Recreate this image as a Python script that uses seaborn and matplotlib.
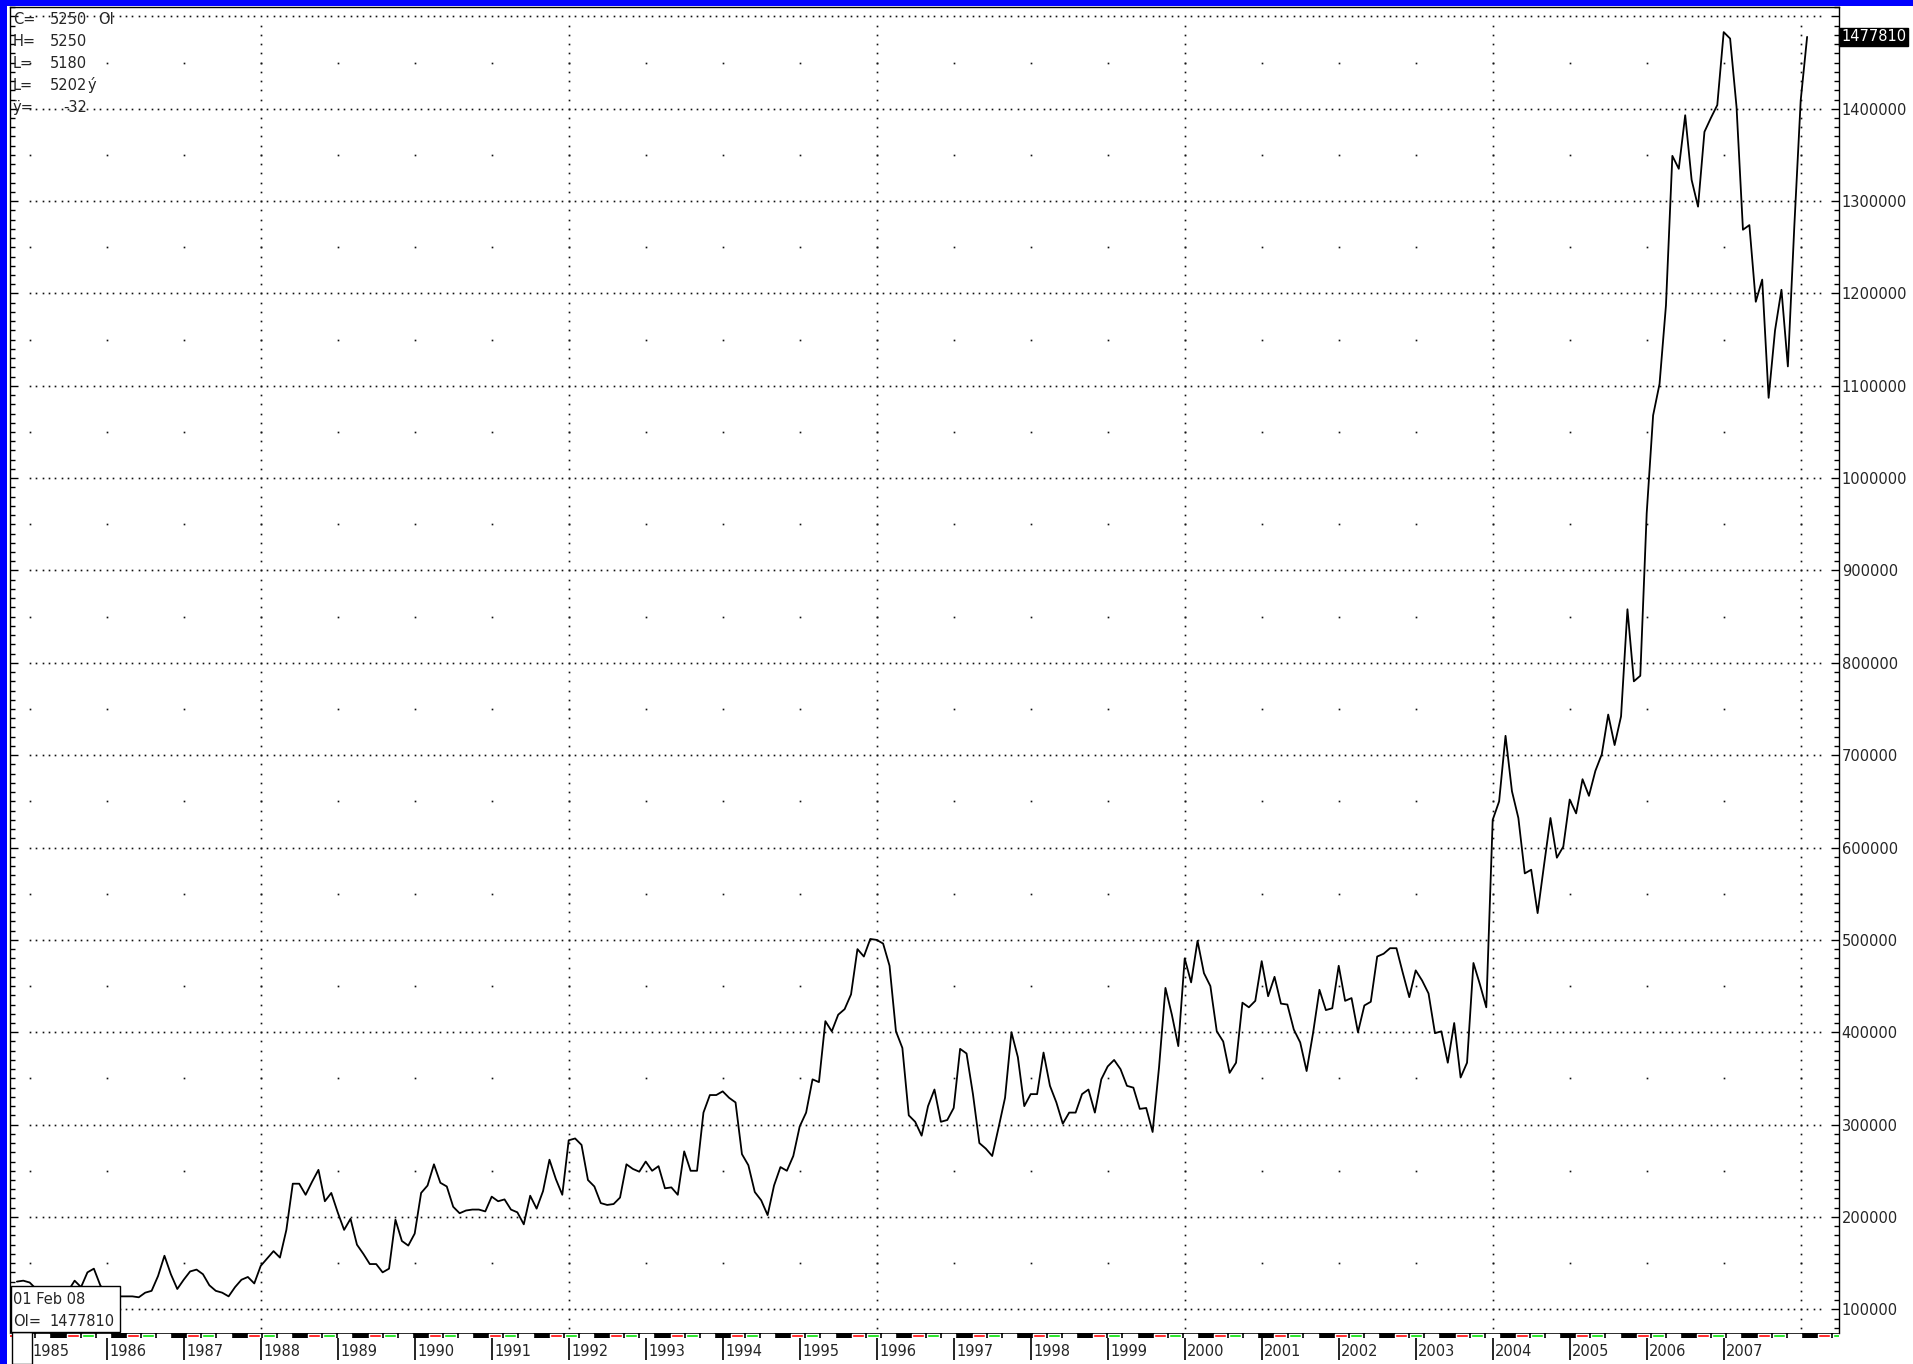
import matplotlib
matplotlib.use('Agg')
import matplotlib.pyplot as plt
from matplotlib.patches import Rectangle
from matplotlib.ticker import MultipleLocator
import numpy as np
import pandas as pd
import seaborn as sns

sns.set_style('white')
plt.rcParams['font.family'] = ['DejaVu Sans']

# monthly open interest, first value is Nov 1984, last is Feb 2008
start_month = '1984-11-01'
open_interest = [
    130000, 131000,
    # 1985
    129000, 122000, 118000, 115000, 113000, 116000, 120000, 131000, 124000, 140000, 144000, 126000,
    # 1986
    116000, 112000, 114000, 114000, 114000, 113000, 118000, 120000, 136000, 158000, 138000, 122000,
    # 1987
    132000, 141000, 143000, 138000, 126000, 120000, 118000, 114000, 124000, 132000, 135000, 128000,
    # 1988
    147000, 155000, 163000, 156000, 186000, 236000, 236000, 224000, 238000, 251000, 217000, 226000,
    # 1989
    205000, 186000, 198000, 170000, 160000, 149000, 149000, 140000, 144000, 197000, 174000, 169000,
    # 1990
    182000, 226000, 234000, 257000, 237000, 233000, 211000, 204000, 207000, 208000, 208000, 206000,
    # 1991
    222000, 217000, 219000, 208000, 205000, 192000, 223000, 209000, 228000, 262000, 241000, 224000,
    # 1992
    283000, 285000, 278000, 240000, 233000, 215000, 213000, 214000, 221000, 257000, 252000, 249000,
    # 1993
    260000, 250000, 255000, 231000, 232000, 224000, 271000, 250000, 250000, 313000, 332000, 332000,
    # 1994
    336000, 329000, 324000, 268000, 256000, 227000, 218000, 202000, 234000, 254000, 250000, 266000,
    # 1995
    298000, 313000, 349000, 346000, 412000, 401000, 419000, 425000, 441000, 490000, 482000, 501000,
    # 1996
    500000, 496000, 472000, 401000, 383000, 310000, 303000, 288000, 320000, 338000, 303000, 305000,
    # 1997
    318000, 382000, 377000, 333000, 280000, 274000, 266000, 297000, 329000, 400000, 373000, 320000,
    # 1998
    333000, 333000, 378000, 342000, 324000, 301000, 313000, 313000, 333000, 338000, 313000, 349000,
    # 1999
    363000, 370000, 360000, 342000, 340000, 317000, 318000, 292000, 362000, 448000, 419000, 385000,
    # 2000
    480000, 454000, 499000, 464000, 450000, 401000, 390000, 356000, 367000, 432000, 427000, 434000,
    # 2001
    477000, 439000, 460000, 431000, 430000, 403000, 389000, 358000, 399000, 446000, 424000, 426000,
    # 2002
    472000, 434000, 437000, 400000, 429000, 433000, 482000, 485000, 491000, 491000, 464000, 438000,
    # 2003
    467000, 456000, 442000, 399000, 401000, 367000, 410000, 351000, 367000, 475000, 452000, 427000,
    # 2004
    630000, 650000, 721000, 661000, 632000, 572000, 576000, 529000, 581000, 632000, 589000, 601000,
    # 2005
    652000, 637000, 674000, 656000, 683000, 701000, 744000, 711000, 742000, 858000, 780000, 786000,
    # 2006
    962000, 1068000, 1102000, 1187000, 1349000, 1335000, 1393000, 1323000, 1294000, 1375000, 1390000, 1404000,
    # 2007
    1483000, 1476000, 1402000, 1269000, 1274000, 1191000, 1215000, 1087000, 1160000, 1204000, 1121000, 1272000,
    # 2008
    1409000, 1477810,
]
year_labels = list(range(1985, 2008))
y_tick_values = list(range(100000, 1500001, 100000))
y_tick_labels = [str(v) for v in y_tick_values[:-1]] + ['']
header_names = ['C=', 'H=', 'L=', 'L=', 'ÿ=']
header_values = ['5250', '5250', '5180', '5202', '-32']
last_date_label = '01 Feb 08'

W, H = 1913, 1364


def fx(px):
    return px / W


def fy(py):
    return 1 - py / H


# pixel -> data mapping measured on the reference
def year_at(px):
    return 1986 + (px - 106.7) / 77.0


def value_at(py):
    return 100000 + (1309.3 - py) / 92.35 * 100000


dates = pd.date_range(start_month, periods=len(open_interest), freq='MS')
df = pd.DataFrame({'t': dates.year + (dates.month - 1) / 12.0, 'oi': open_interest})

fig = plt.figure(figsize=(W / 100, H / 100), dpi=100)
ax = fig.add_axes([fx(10), fy(1332.5), fx(1839) - fx(10), fy(7) - fy(1332.5)])
ax.set_xlim(year_at(10), year_at(1839))
ax.set_ylim(value_at(1332.5), value_at(7))

# dotted grid: one dot per month on the 100000 lines
grid_t = 1985 + np.arange(280) / 12.0
for v in y_tick_values:
    ax.plot(grid_t, np.full(len(grid_t), v), ls='none', marker='s', ms=1.2, mew=0, color='#111111')
# vertical dotted lines every 4 years, one dot per 10000
dot_vals = np.arange(80000, 1500000, 10000)
for yr in range(1988, 2009, 4):
    ax.plot(np.full(len(dot_vals), yr), dot_vals, ls='none', marker='s', ms=1.2, mew=0, color='#111111')
# sparse dots at every year, halfway between gridlines
mid_vals = np.arange(150000, 1500000, 100000)
for yr in range(1985, 2009):
    ax.plot(np.full(len(mid_vals), yr), mid_vals, ls='none', marker='s', ms=1.2, mew=0, color='#111111')

sns.lineplot(data=df, x='t', y='oi', ax=ax, color='black', linewidth=1.3, estimator=None, zorder=5)

ax.set_xlabel('')
ax.set_ylabel('')
ax.set_xticks([])
ax.set_yticks(y_tick_values)
ax.set_yticklabels(y_tick_labels)
ax.yaxis.set_minor_locator(MultipleLocator(10000))
ax.tick_params(axis='y', which='both', direction='in', left=True, right=True,
               labelleft=False, labelright=True, labelsize=10.5, pad=2, color='black')
ax.tick_params(axis='y', which='major', length=6, width=1)
ax.tick_params(axis='y', which='minor', length=3.5, width=1)
for side in ['left', 'right', 'top']:
    ax.spines[side].set_color('black')
    ax.spines[side].set_linewidth(1)
ax.spines['bottom'].set_visible(False)

# last value tag
ax.annotate(str(open_interest[-1]), xy=(1, open_interest[-1]), xycoords=('axes fraction', 'data'),
            xytext=(1.5, 0), textcoords='offset points', ha='left', va='center', color='white',
            fontsize=10.5, bbox=dict(boxstyle='square,pad=0.12', fc='black', ec='black'),
            annotation_clip=False)

# bottom date band
band = fig.add_axes([fx(10), 0, fx(1839) - fx(10), fy(1332.5)])
band.set_xlim(year_at(10), year_at(1839))
band.set_ylim(1364, 1332.5)
band.axis('off')
band.axhspan(1332.5, 1338.0, color='black', lw=0)
period = 0.7843
starts = 1985.48 + period * np.arange(-1, 31)
seg = 12 / 77.0
gap = 3 / 77.0
band.broken_barh([(s, seg) for s in starts], (1333.9, 3.0), facecolors='#ff0000')
band.broken_barh([(s + seg + gap, seg) for s in starts], (1333.9, 3.0), facecolors='#00e000')
band.broken_barh([(s + 2 * (seg + gap), seg * 1.1) for s in starts], (1333.9, 3.0), facecolors='white')
band.vlines(year_labels, 1338, 1360, color='black', lw=1.2)
for yr in year_labels:
    band.text(yr + 2.6 / 77.0, 1351.5, str(yr), ha='left', va='center', fontsize=10.5)

# small empty box in the corner
fig.add_artist(Rectangle((fx(11.7), fy(1363.5)), fx(31.7) - fx(11.7), (1363.5 - 1332) / H,
                         transform=fig.transFigure, fc='white', ec='black', lw=1, zorder=10))

# data window box
fig.add_artist(Rectangle((fx(11), fy(1332)), fx(120) - fx(11), (1332 - 1285.7) / H,
                         transform=fig.transFigure, fc='white', ec='black', lw=1, zorder=10))
fig.text(fx(13.3), fy(1300), last_date_label, ha='left', va='center', fontsize=10.5, zorder=11)
fig.text(fx(13.3), fy(1321.5), 'OI=', ha='left', va='center', fontsize=10.5, zorder=11)
fig.text(fx(49.3), fy(1321.5), str(open_interest[-1]), ha='left', va='center', fontsize=10.5, zorder=11)

# header readout, top left
for i, (name, val) in enumerate(zip(header_names, header_values)):
    py = 19.3 + 22.0 * i
    fig.text(fx(12.7), fy(py), name, ha='left', va='center', fontsize=10.5, zorder=11)
    fig.text(fx(87.3), fy(py), val, ha='right', va='center', fontsize=10.5, zorder=11)
fig.text(fx(88), fy(19.3 + 22.0 * 3), 'ý', ha='left', va='center', fontsize=10.5, zorder=11)
fig.text(fx(97.7), fy(19.3), 'OI', ha='left', va='center', fontsize=10.5, zorder=11)

# blue window frame
fig.add_artist(Rectangle((0, 0), fx(7), 1, transform=fig.transFigure, fc='#0000ff', lw=0, zorder=20))
fig.add_artist(Rectangle((0, fy(5.5)), 1, 5.5 / H, transform=fig.transFigure, fc='#0000ff', lw=0, zorder=20))

fig.savefig('out.png', dpi=100)
